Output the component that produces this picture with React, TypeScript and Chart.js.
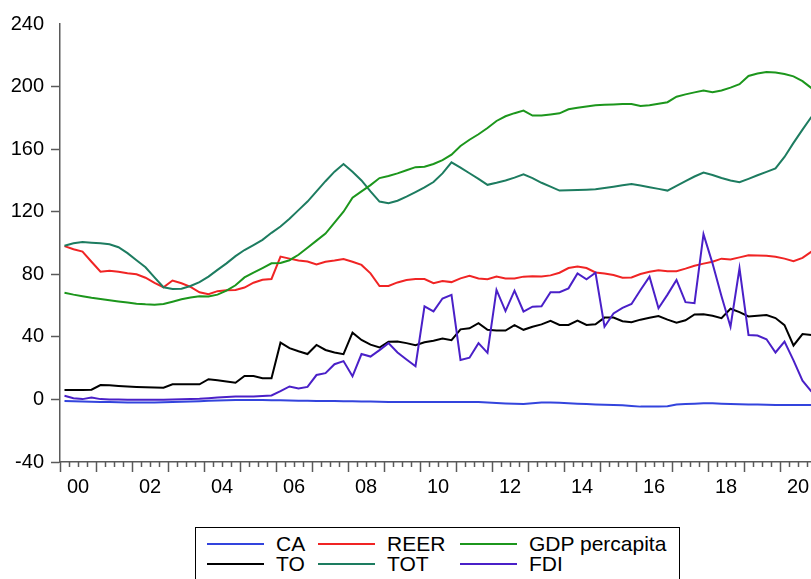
import React, { useEffect, useRef } from "react";
import { Chart, registerables } from "chart.js";

Chart.register(...registerables);

// Quarterly data, 2000Q1 .. 2020Q4
const startYear = 2000;
const endYear = 2021;
const quartersPerYear = 4;

const seriesNames = ["CA", "TO", "REER", "TOT", "GDP percapita", "FDI"];
const seriesColors = ["#3344dd", "#000000", "#f02424", "#1d7c60", "#1c961c", "#4a20c8"];

const CA = [
  -1, -1.2, -1.4, -1.5, -1.6, -1.7, -1.8, -1.9, -2, -2, -1.9, -1.8,
  -1.7, -1.5, -1.3, -1.1, -0.9, -0.7, -0.5, -0.4, -0.4, -0.4, -0.4, -0.5,
  -0.6, -0.7, -0.8, -0.9, -1, -1, -1, -1.1, -1.2, -1.3, -1.4, -1.5,
  -1.6, -1.6, -1.6, -1.6, -1.6, -1.6, -1.6, -1.6, -1.6, -1.6, -1.7, -2,
  -2.3, -2.6, -2.8, -2.9, -2.5, -2, -2, -2.2, -2.5, -2.8, -3, -3.2,
  -3.4, -3.5, -3.8, -4.2, -4.6, -4.6, -4.6, -4.4, -3.2, -2.9, -2.7, -2.5,
  -2.5, -2.7, -2.9, -3.1, -3.2, -3.3, -3.4, -3.5, -3.5, -3.5, -3.5, -3.5,
];

const TO = [
  6, 6, 6, 6.2, 9.2, 9, 8.6, 8.3, 8, 7.8, 7.6, 7.5,
  9.7, 9.7, 9.7, 9.7, 12.9, 12.2, 11.5, 10.7, 15, 15, 13.6, 13.5,
  36.3, 32.8, 30.8, 29, 34.8, 31.6, 30, 28.9, 42.7, 38, 35, 33.2,
  36.8, 37, 36, 34.6, 36.5, 37.5, 39, 37.9, 44.8, 45.5, 48.8, 44.5,
  44, 44, 47.5, 44.5, 46.5, 48, 50.2, 47.6, 47.6, 50.4, 47.6, 48,
  52.3, 52.3, 50, 49.3, 51, 52.2, 53.3, 51, 49, 50.6, 54.3, 54.4,
  53.5, 51.9, 58, 55.8, 53, 53.5, 54, 52, 47.5, 34.5, 41.8, 41.2,
];

const REER = [
  98, 96, 94.5, 88, 81.6, 82.2, 81.6, 80.6, 80, 77.8, 74.5, 71.7,
  76, 74.3, 72, 68.5, 67.2, 69.2, 69.8, 70, 71.5, 74.6, 76.5, 77,
  91.3, 90, 88.8, 88.2, 86.3, 88, 88.8, 89.8, 88, 86, 80.6, 72.5,
  72.5, 74.8, 76.3, 77, 77, 74.3, 75.7, 75, 77.4, 79, 77.3, 76.8,
  78.5, 77.3, 77.3, 78.5, 78.7, 78.6, 79.3, 81, 84, 84.9, 84, 81.2,
  80.5, 79.5, 77.8, 78, 80.2, 81.6, 82.6, 82, 82, 83.6, 85.5, 86.8,
  88, 90, 89.5, 90.8, 92.2, 92, 91.8, 91.2, 90, 88.3, 90.5, 94.5,
];

const TOT = [
  98.3, 99.8, 100.6, 100.2, 99.8, 99.2, 97.3, 93.5, 89, 84.5, 78, 71.7,
  70.6, 70.8, 72.5, 75, 78.5, 82.8, 87, 91.6, 95.5, 98.7, 102, 106.5,
  110.5, 115.5, 121, 126.5, 133, 139.5, 145.6, 150.5, 145.5, 140, 133, 126.5,
  125.4, 127, 129.6, 132.5, 135.5, 139, 144.5, 151.6, 148.2, 144.6, 141, 137.2,
  138.5, 140, 141.8, 143.9, 141.5, 138.5, 136, 133.5, 133.7, 133.9, 134.1, 134.3,
  135.1, 136, 136.9, 137.7, 136.7, 135.6, 134.6, 133.5, 136.5, 139.5, 142.5, 145,
  143.5, 141.6, 140, 138.8, 141, 143.3, 145.5, 147.7, 155, 164, 172.5, 180.7,
];

const GDP = [
  68.2, 67, 66, 65, 64.2, 63.4, 62.6, 61.9, 61.2, 60.8, 60.6, 61,
  62.5, 64, 65.2, 66, 65.8, 67, 69.5, 73, 78, 81, 84, 87,
  87.2, 89, 92.5, 97, 101.5, 106, 113, 120, 129, 133, 137, 141.5,
  142.8, 144.5, 146.5, 148.5, 148.8, 150.5, 153, 156.5, 162, 166, 169.5, 173.5,
  178, 181, 183, 184.6, 181.5, 181.5, 182.2, 182.9, 185.5, 186.5, 187.3, 188,
  188.3, 188.6, 188.8, 188.9, 187.6, 188, 189, 190, 193.5, 195, 196.3, 197.4,
  196.4, 197.5, 199.3, 201.5, 206.8, 208.3, 209.3, 209, 208, 206.5, 203.5, 199,
];

const FDI = [
  2.3, 0.8, 0.2, 1.2, 0.2, 0, -0.1, -0.2, -0.2, -0.2, -0.2, -0.2,
  0, 0.1, 0.3, 0.4, 0.8, 1.2, 1.6, 1.9, 1.9, 1.9, 2.2, 2.5,
  5.3, 8.3, 7, 8, 15.6, 16.8, 22.5, 24.5, 14.8, 29, 27.4, 31.5,
  36, 30, 25.5, 21.2, 59.5, 56.3, 64.5, 66.8, 25.2, 26.7, 36, 29.8,
  70, 56.5, 69.5, 56.2, 59.3, 59.5, 68.5, 68.5, 71, 80.5, 76.8, 81,
  46.5, 55, 58.5, 61, 70, 78.5, 58.3, 67, 76.4, 62.2, 61.5, 105.6,
  87, 66, 46.5, 83.8, 41.2, 40.8, 38.5, 30, 37, 25, 12, 5,
];

const seriesValues = [CA, TO, REER, TOT, GDP, FDI];

const yTickValues = [-40, 0, 40, 80, 120, 160, 200, 240];
const xLabelYears = [2000, 2002, 2004, 2006, 2008, 2010, 2012, 2014, 2016, 2018, 2020];
const xTickLabels = ["00", "02", "04", "06", "08", "10", "12", "14", "16", "18", "20"];

const AXIS_COLOR = "#5a5a5a";
const AXIS_FONT = "'Liberation Sans', Arial, sans-serif";

// EViews-style x axis: year/quarter tick marks and two-digit year labels centred in each year
const xAxisPlugin = {
  id: "quarterAxis",
  afterDraw(chart: any) {
    const xs = chart.scales.x;
    const ctx = chart.ctx;
    const bottom = chart.chartArea.bottom;
    ctx.save();
    ctx.strokeStyle = AXIS_COLOR;
    ctx.lineWidth = 1.5;
    for (let q = startYear * quartersPerYear; q <= endYear * quartersPerYear; q++) {
      const px = Math.round(xs.getPixelForValue(q / quartersPerYear)) + 0.5;
      const len = q % quartersPerYear === 0 ? 10 : 5;
      ctx.beginPath();
      ctx.moveTo(px, bottom);
      ctx.lineTo(px, bottom + len);
      ctx.stroke();
    }
    ctx.fillStyle = "#000";
    ctx.font = `20px ${AXIS_FONT}`;
    ctx.textAlign = "center";
    ctx.textBaseline = "top";
    xLabelYears.forEach((yr, i) => {
      const px = xs.getPixelForValue(yr + 0.5);
      ctx.fillText(xTickLabels[i], px, bottom + 15);
    });
    ctx.restore();
  },
};

export default function App() {
  const canvasRef = useRef<HTMLCanvasElement | null>(null);

  useEffect(() => {
    const canvas = canvasRef.current;
    if (!canvas) return;
    const datasets = seriesNames.map((name, s) => ({
      label: name,
      data: seriesValues[s].map((v, i) => ({ x: startYear + (i + 0.5) / quartersPerYear, y: v })),
      borderColor: seriesColors[s],
      backgroundColor: seriesColors[s],
      borderWidth: 2,
      pointRadius: 0,
      tension: 0,
      fill: false,
      order: seriesNames.length - s,
    }));
    const chart = new Chart(canvas, {
      type: "line",
      data: { datasets },
      plugins: [xAxisPlugin],
      options: {
        animation: false,
        responsive: false,
        devicePixelRatio: 1,
        events: [],
        layout: { padding: { top: 24, right: 24, left: 0, bottom: 0 } },
        plugins: { legend: { display: false }, tooltip: { enabled: false } },
        scales: {
          x: {
            type: "linear",
            min: startYear,
            max: endYear,
            afterFit: (scale: any) => {
              scale.height = 38;
            },
            grid: { display: false, drawTicks: false },
            border: { display: true, color: AXIS_COLOR, width: 1.5 },
            ticks: { display: false },
          },
          y: {
            type: "linear",
            min: -40,
            max: 240,
            afterFit: (scale: any) => {
              scale.width = 60;
            },
            afterBuildTicks: (scale: any) => {
              scale.ticks = yTickValues.map((v) => ({ value: v }));
            },
            grid: {
              display: true,
              drawOnChartArea: false,
              drawTicks: true,
              tickLength: 9,
              tickWidth: 1.5,
              tickColor: (c: any) => (c.tick && c.tick.value === 240 ? "rgba(0,0,0,0)" : AXIS_COLOR),
            },
            border: { display: true, color: AXIS_COLOR, width: 1.5 },
            ticks: {
              padding: 7,
              color: "#000",
              font: { family: AXIS_FONT, size: 20 },
              callback: (v: any) => String(v),
            },
          },
        },
      },
    } as any);
    return () => chart.destroy();
  }, []);

  const legendCols = [
    [0, 1],
    [2, 3],
    [4, 5],
  ];
  const colLefts = [11, 122, 264];

  return (
    <div
      style={{
        position: "fixed",
        left: 0,
        top: 0,
        width: 811,
        height: 579,
        overflow: "hidden",
        background: "#fff",
      }}
    >
      <canvas
        ref={canvasRef}
        width={840}
        height={500}
        style={{ position: "absolute", left: 0, top: 0, width: 840, height: 500 }}
      />
      <div
        style={{
          position: "absolute",
          left: 195,
          top: 527,
          width: 485,
          height: 70,
          border: "1px solid #000",
          boxSizing: "border-box",
          fontFamily: AXIS_FONT,
          fontSize: 21,
          color: "#000",
        }}
      >
        {legendCols.map((col, ci) =>
          col.map((s, ri) => (
            <div
              key={seriesNames[s]}
              style={{
                position: "absolute",
                left: colLefts[ci],
                top: 4 + ri * 20,
                height: 24,
                display: "flex",
                alignItems: "center",
                whiteSpace: "nowrap",
                lineHeight: "24px",
              }}
            >
              <span
                style={{
                  display: "inline-block",
                  width: 57,
                  height: 2,
                  background: seriesColors[s],
                  marginRight: 12,
                }}
              />
              <span>{seriesNames[s]}</span>
            </div>
          ))
        )}
      </div>
    </div>
  );
}
